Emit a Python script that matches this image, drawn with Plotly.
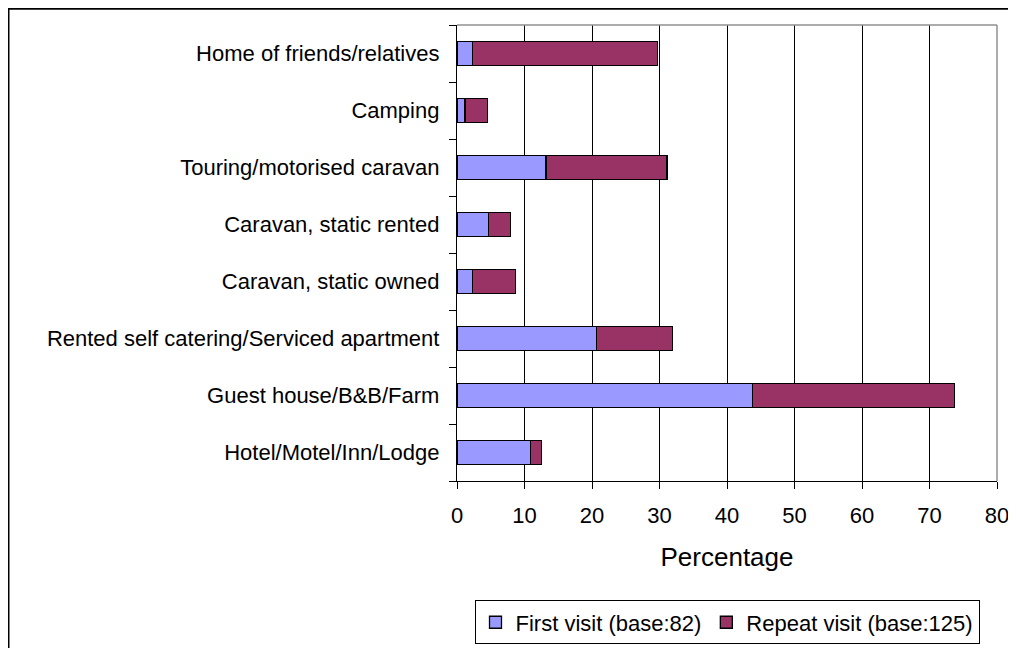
import plotly.graph_objects as go

# categories bottom -> top, as plotly draws horizontal bars
categories = [
    "Hotel/Motel/Inn/Lodge",
    "Guest house/B&B/Farm",
    "Rented self catering/Serviced apartment",
    "Caravan, static owned",
    "Caravan, static rented",
    "Touring/motorised caravan",
    "Camping",
    "Home of friends/relatives",
]
first_visit = [10.9, 43.8, 20.7, 2.3, 4.7, 13.2, 1.2, 2.3]
repeat_visit = [1.6, 29.9, 11.2, 6.4, 3.2, 17.9, 3.3, 27.4]
x_ticks = [0, 10, 20, 30, 40, 50, 60, 70, 80]

FONT = "Liberation Sans, Arial, sans-serif"

# the page body adds 8px, so the figure is laid out 8px up/left
L, R, T, B = 449, 27, 17, 169
plot_w = 1016 - L - R
plot_h = 648 - T - B

fig = go.Figure()

fig.add_trace(go.Bar(
    y=categories,
    x=first_visit,
    orientation="h",
    name="First visit (base:82)",
    marker=dict(color="#9999FF", line=dict(color="black", width=1.3)),
))
fig.add_trace(go.Bar(
    y=categories,
    x=repeat_visit,
    orientation="h",
    name="Repeat visit (base:125)",
    marker=dict(color="#993366", line=dict(color="black", width=1.3)),
))

fig.update_layout(
    barmode="stack",
    bargap=0.59,
    width=1016,
    height=648,
    margin=dict(l=L, r=R, t=T, b=B),
    paper_bgcolor="white",
    plot_bgcolor="white",
    font=dict(family=FONT, size=22, color="black"),
    showlegend=True,
    legend=dict(
        orientation="h",
        traceorder="normal",
        x=0.5, xanchor="center",
        y=-121 / plot_h, yanchor="top",
        bordercolor="black", borderwidth=1,
        font=dict(size=22),
        itemwidth=30,
    ),
    xaxis=dict(
        range=[0, 80],
        tickvals=x_ticks,
        showgrid=True, gridcolor="black", gridwidth=1.3,
        zeroline=False,
        showline=True, linecolor="black", linewidth=1.3,
        ticks="outside", ticklen=7, tickcolor="black", tickwidth=1.3,
        ticklabelstandoff=7,
        title=dict(text="Percentage", standoff=21),
    ),
    yaxis=dict(
        showgrid=False,
        zeroline=False,
        showline=True, linecolor="black", linewidth=1.3,
        ticks="outside", ticklen=7, tickcolor="black", tickwidth=1.3,
        tickson="boundaries",
        ticklabelstandoff=12,
    ),
    shapes=[
        # plot-area border on top and right (grey)
        dict(type="line", xref="paper", yref="paper", x0=0, x1=1, y0=1, y1=1,
             line=dict(color="#909090", width=1.5), layer="above"),
        dict(type="line", xref="paper", yref="paper", x0=1, x1=1, y0=0, y1=1,
             line=dict(color="#909090", width=1.5), layer="above"),
        # outer chart border (left and top visible)
        dict(type="line", xref="paper", yref="paper",
             x0=-L / plot_w, x1=1.1, y0=(plot_h + T) / plot_h, y1=(plot_h + T) / plot_h,
             line=dict(color="black", width=3)),
        dict(type="line", xref="paper", yref="paper",
             x0=-L / plot_w, x1=-L / plot_w, y0=(plot_h + T) / plot_h, y1=-0.5,
             line=dict(color="black", width=3)),
    ],
)

fig.write_html("out.html")
